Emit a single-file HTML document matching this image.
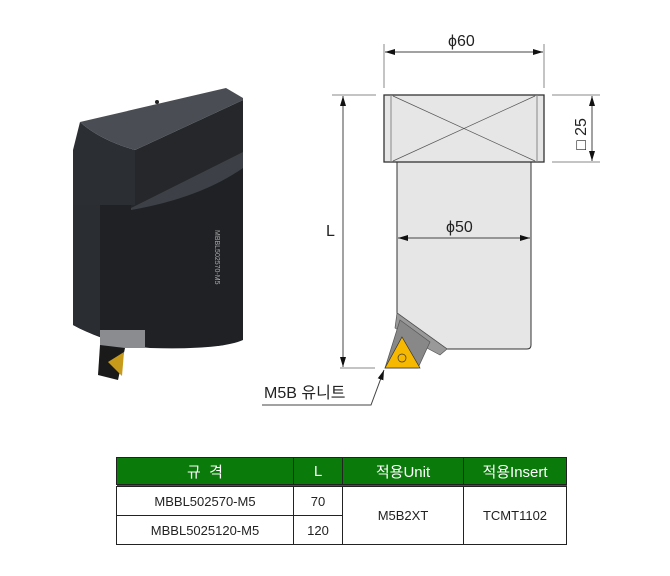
<!DOCTYPE html>
<html><head><meta charset="utf-8"><style>
body{margin:0;background:#fff;width:670px;height:576px;overflow:hidden;font-family:"Liberation Sans","Noto Sans CJK KR",sans-serif}
svg{position:absolute;left:0;top:0}
table{position:absolute;left:116px;top:457px;border-collapse:collapse;font-size:13px;color:#222;table-layout:fixed;width:450px}
td{border:1px solid #222;text-align:center;padding:0;height:28px}
th{background:#0a7a0a;color:#fff;font-weight:normal;font-size:15px;height:26px;border:1px solid #222;border-bottom:3px double #222;padding:0}
</style></head><body>
<svg width="670" height="576" viewBox="0 0 670 576">
<defs><marker id="a" viewBox="0 0 10 6" refX="10" refY="3" markerWidth="10" markerHeight="6" orient="auto-start-reverse"><path d="M0,0L10,3L0,6Z" fill="#111"/></marker></defs>
<!-- 3D tool -->
<path d="M73,150 L73,325 Q110,345 150,348 Q220,350 243,340 L243,150 Z" fill="#1f2125"/>
<path d="M73,150 L73,325 Q85,332 100,336 L100,150Z" fill="#2a2d31"/>
<path d="M135,150 L243,100 L243,152 L131,208Z" fill="#25272b"/>
<path d="M80,122 Q100,140 135,150 L135,205 L73,205 L73,150 Z" fill="#2b2e33"/>
<path d="M80,122 L226,88 L243,98 L243,100 L135,150 Q100,140 80,122 Z" fill="#4a4e54"/>
<path d="M131,208 L243,152 L243,168 Q200,198 131,210 Z" fill="#3d4046"/>
<circle cx="157" cy="102" r="2" fill="#222"/>
<rect x="100" y="330" width="45" height="18" fill="#8a8c90"/>
<path d="M100,345 L125,348 L118,380 L98,375Z" fill="#1a1a1a"/>
<path d="M108,362 L124,352 L122,376Z" fill="#c89a1a"/>
<text x="215" y="230" font-size="7" fill="#aaa" transform="rotate(90 215 230)">MBBL502570-M5</text>
<!-- drawing -->
<g stroke="#888" stroke-width="1" fill="none">
<line x1="384" y1="44" x2="384" y2="88"/><line x1="544" y1="44" x2="544" y2="88"/>
<line x1="552" y1="95" x2="600" y2="95"/><line x1="552" y1="162" x2="600" y2="162"/>
<line x1="332" y1="95" x2="376" y2="95"/><line x1="340" y1="368" x2="375" y2="368"/>
</g>
<path d="M397,162 L397,313 L447,349 L527,349 Q531,349 531,345 L531,162Z" fill="#e6e6e6" stroke="#333"/>
<path d="M397,313 L447,349 L440,355 L425,347 L395,328Z" fill="#999" stroke="#555" stroke-width="0.7"/>
<path d="M400,320 L430,342 L418,368 L385,368Z" fill="#888" stroke="#555" stroke-width="0.7"/>
<path d="M402,337 L420,368 L385,368Z" fill="#f6b800" stroke="#333" stroke-width="0.7"/>
<circle cx="402" cy="358" r="4" fill="none" stroke="#333" stroke-width="0.7"/>
<rect x="384" y="95" width="160" height="67" fill="#e6e6e6" stroke="#333" stroke-width="1.3"/>
<line x1="391" y1="95" x2="391" y2="162" stroke="#888"/><line x1="537" y1="95" x2="537" y2="162" stroke="#888"/>
<line x1="393" y1="96" x2="535" y2="161" stroke="#555" stroke-width="0.7"/><line x1="535" y1="96" x2="393" y2="161" stroke="#555" stroke-width="0.7"/>
<g stroke="#444" stroke-width="1">
<line x1="385" y1="52" x2="543" y2="52" marker-start="url(#a)" marker-end="url(#a)"/>
<line x1="398" y1="238" x2="530" y2="238" marker-start="url(#a)" marker-end="url(#a)"/>
<line x1="343" y1="96" x2="343" y2="367" marker-start="url(#a)" marker-end="url(#a)"/>
<line x1="592" y1="96" x2="592" y2="161" marker-start="url(#a)" marker-end="url(#a)"/>
<polyline points="262,405 371,405 384,370" fill="none" marker-end="url(#a)"/>
</g>
<g font-size="16" fill="#222">
<text x="448" y="46">ϕ60</text><text x="446" y="232">ϕ50</text>
<text x="326" y="236">L</text>
<text x="264" y="398">M5B 유니트</text>
<text transform="translate(586 150) rotate(-90)">□ 25</text>
</g>
</svg>
<table>
<colgroup><col style="width:177px"><col style="width:49px"><col style="width:121px"><col style="width:103px"></colgroup>
<tr><th>규 &nbsp;격</th><th>L</th><th>적용Unit</th><th>적용Insert</th></tr>
<tr><td>MBBL502570-M5</td><td>70</td><td rowspan="2">M5B2XT</td><td rowspan="2">TCMT1102</td></tr>
<tr><td>MBBL5025120-M5</td><td>120</td></tr>
</table>
</body></html>
